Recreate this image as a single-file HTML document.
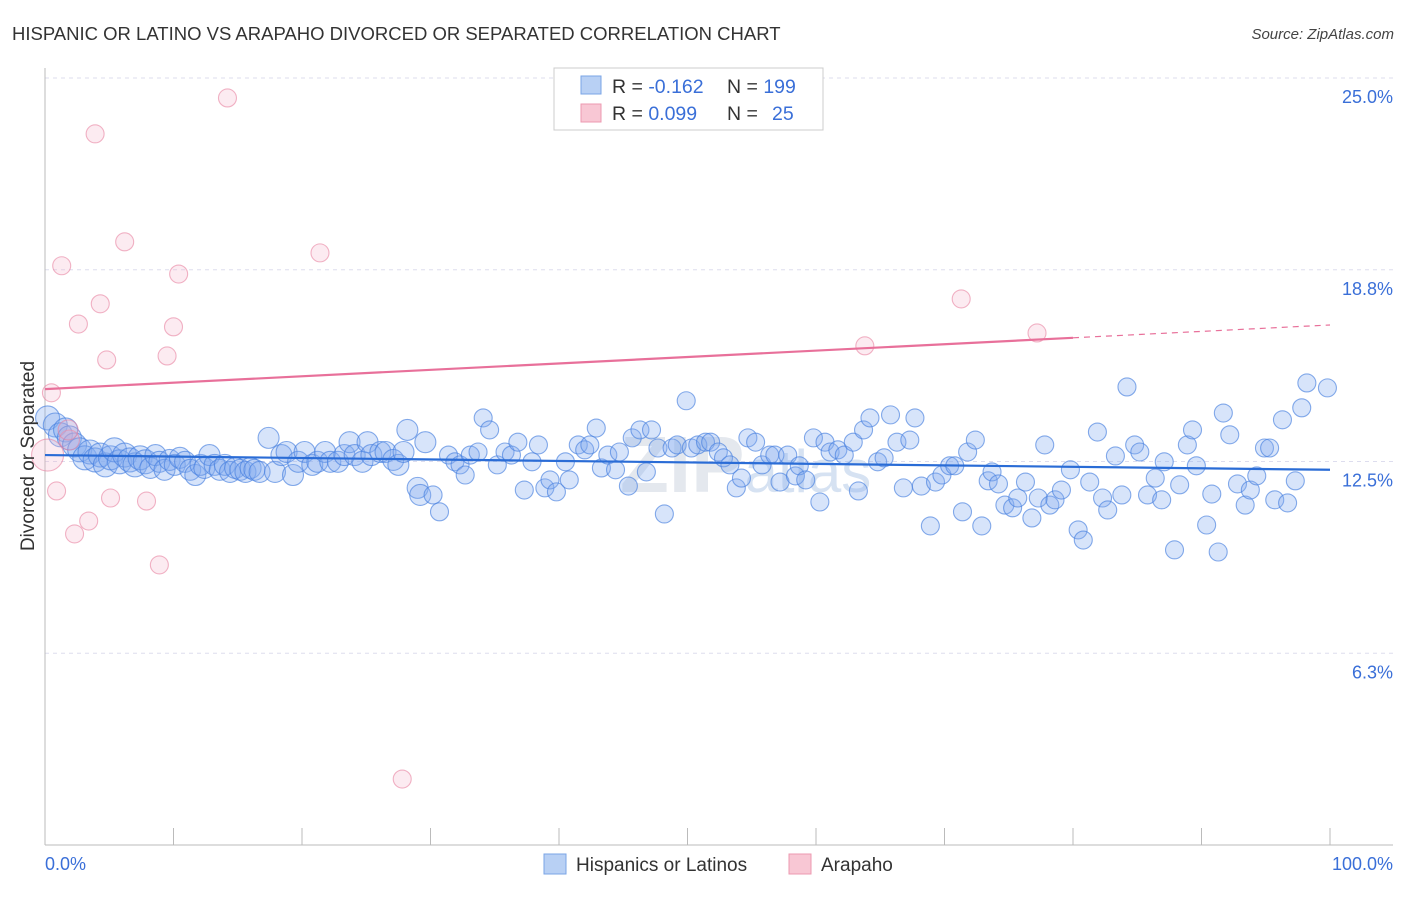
<!DOCTYPE html>
<html><head><meta charset="utf-8"><style>
body{margin:0;background:#fff;font-family:"Liberation Sans",sans-serif;}
svg text{font-family:"Liberation Sans",sans-serif;}
</style></head><body>
<svg id="c" width="1406" height="892" xmlns="http://www.w3.org/2000/svg">
<text x="12" y="40" font-size="18.5" fill="#333">HISPANIC OR LATINO VS ARAPAHO DIVORCED OR SEPARATED CORRELATION CHART</text>
<text x="1394" y="39" font-size="15" fill="#444" font-style="italic" text-anchor="end">Source: ZipAtlas.com</text>
<g id="grid"></g>
<text x="620" y="492" font-size="80" fill="#e4e8ee" font-weight="bold">ZIP<tspan fill="#d6e2f2" font-weight="normal" font-size="60">atlas</tspan></text>
<line x1="45" y1="68" x2="45" y2="845" stroke="#bbb"/>
<line x1="45" y1="845" x2="1393" y2="845" stroke="#bbb"/>
<g id="ticks"></g>
<g id="pts"></g>
<g id="trends"></g>
<text transform="translate(34,456) rotate(-90)" font-size="19" fill="#333" text-anchor="middle">Divorced or Separated</text>
<text x="45" y="870" font-size="18" fill="#3a6fd8">0.0%</text>
<text x="1393" y="870" font-size="18" fill="#3a6fd8" text-anchor="end">100.0%</text>
<g>
<rect x="554" y="68" width="269" height="62" fill="#fff" stroke="#ccc"/>
<rect x="581" y="76" width="20" height="18" fill="#b8d0f4" stroke="#7aa4e6"/>
<rect x="581" y="104" width="20" height="18" fill="#f8c7d4" stroke="#ec9ab0"/>
<text x="612" y="93" font-size="19.5" fill="#333">R = <tspan fill="#3a6fd8">-0.162</tspan><tspan x="727">N = </tspan><tspan fill="#3a6fd8">199</tspan></text>
<text x="612" y="120" font-size="19.5" fill="#333">R = <tspan fill="#3a6fd8"> 0.099</tspan><tspan x="727">N = </tspan><tspan fill="#3a6fd8" x="772">25</tspan></text>
</g>
<g>
<rect x="544" y="854" width="22" height="20" fill="#b8d0f4" stroke="#7aa4e6"/>
<text x="576" y="871" font-size="19" fill="#333">Hispanics or Latinos</text>
<rect x="789" y="854" width="22" height="20" fill="#f8c7d4" stroke="#ec9ab0"/>
<text x="821" y="871" font-size="19" fill="#333">Arapaho</text>
</g>
</svg>
<script>
const yTicks=[25,18.75,12.5,6.25];
const yTickLabels=["25.0%","18.8%","12.5%","6.3%"];
const xTicks=[0,10,20,30,40,50,60,70,80,90,100];
const blueX=[0.2,0.8,1.2,1.6,1.9,2.3,2.7,3.1,3.5,3.9,4.3,4.7,5.1,5.4,5.8,6.2,6.6,7.0,7.4,7.8,8.2,8.6,8.9,9.3,9.7,10.1,10.5,10.9,11.3,11.7,12.1,12.4,12.8,13.2,13.6,14.0,14.4,14.8,15.2,15.6,16.0,16.3,16.7,17.4,17.9,18.4,18.8,19.3,19.7,20.2,20.8,21.2,21.8,22.2,22.8,23.3,23.7,24.1,24.7,25.1,25.4,26.1,26.5,27.1,27.5,27.9,28.2,29.0,29.2,29.6,30.2,30.7,31.4,31.9,32.3,32.7,33.1,33.7,34.1,34.6,35.2,35.8,36.3,36.8,37.3,37.9,38.4,38.9,39.3,39.8,40.5,40.8,41.5,42.0,42.4,42.9,43.3,43.8,44.4,44.7,45.4,45.7,46.3,46.8,47.2,47.7,48.2,48.8,49.2,49.9,50.3,50.8,51.4,51.8,52.4,52.8,53.3,53.8,54.2,54.7,55.3,55.8,56.4,56.8,57.2,57.8,58.4,58.7,59.2,59.8,60.3,60.7,61.1,61.7,62.2,62.9,63.3,63.7,64.2,64.8,65.3,65.8,66.3,66.8,67.3,67.7,68.2,68.9,69.3,69.8,70.4,70.8,71.4,71.8,72.4,72.9,73.4,73.7,74.2,74.7,75.3,75.7,76.3,76.8,77.3,77.8,78.2,78.6,79.1,79.8,80.4,80.8,81.3,81.9,82.3,82.7,83.3,83.8,84.2,84.8,85.2,85.8,86.4,86.9,87.1,87.9,88.3,88.9,89.3,89.6,90.4,90.8,91.3,91.7,92.2,92.8,93.4,93.8,94.3,94.9,95.3,95.7,96.3,96.7,97.3,97.8,98.2,99.8];
const blueY=[13.92,13.69,13.37,13.53,13.27,13.04,12.88,12.62,12.81,12.55,12.71,12.39,12.62,12.88,12.49,12.71,12.55,12.39,12.62,12.49,12.29,12.71,12.49,12.23,12.55,12.39,12.62,12.49,12.23,12.06,12.39,12.29,12.71,12.39,12.23,12.39,12.16,12.29,12.23,12.16,12.29,12.23,12.16,13.27,12.16,12.71,12.81,12.06,12.49,12.81,12.39,12.49,12.81,12.49,12.49,12.71,13.13,12.71,12.49,13.13,12.71,12.81,12.81,12.55,12.39,12.81,13.53,11.64,11.41,13.13,11.41,10.86,12.71,12.49,12.39,12.06,12.71,12.81,13.92,13.53,12.39,12.81,12.71,13.13,11.57,12.49,13.04,11.64,11.90,11.51,12.49,11.90,13.04,12.88,13.04,13.59,12.29,12.71,12.23,12.81,11.70,13.27,13.53,12.16,13.53,12.94,10.79,12.94,13.04,14.48,12.94,13.04,13.13,13.13,12.81,12.62,12.39,11.64,11.96,13.27,13.13,12.39,12.71,12.71,11.83,12.71,12.03,12.36,11.90,13.27,11.18,13.13,12.81,12.88,12.71,13.13,11.54,13.53,13.92,12.49,12.62,14.02,13.13,11.64,13.20,13.92,11.70,10.40,11.83,12.06,12.36,12.36,10.86,12.81,13.20,10.40,11.87,12.16,11.77,11.08,10.99,11.31,11.83,10.66,11.31,13.04,11.08,11.25,11.57,12.23,10.27,9.94,11.83,13.46,11.31,10.92,12.68,11.41,14.93,13.04,12.81,11.41,11.96,11.25,12.49,9.62,11.74,13.04,13.53,12.36,10.43,11.44,9.55,14.08,13.37,11.77,11.08,11.57,12.03,12.94,12.94,11.25,13.86,11.15,11.87,14.25,15.06,14.90];
const pinkX=[0.5,0.9,1.3,2.3,2.6,3.4,3.9,4.3,4.8,5.1,6.2,7.9,8.9,9.5,10.0,10.4,14.2,21.4,27.8,63.8,71.3,77.2,0.2,1.9,1.8];
const pinkY=[14.74,11.54,18.88,10.14,16.98,10.56,23.18,17.64,15.81,11.31,19.66,11.21,9.13,15.94,16.89,18.61,24.35,19.30,2.15,16.27,17.80,16.69,12.71,13.2,13.53];
const blueTrend=[12.71,12.23];
const pinkTrend=[14.86,16.95];
const pinkSolidEnd=80;

const X=v=>45+v*12.85;
const Y=v=>845-v*30.68;
const NS="http://www.w3.org/2000/svg";
function mk(tag,attrs,parent){const e=document.createElementNS(NS,tag);for(const k in attrs)e.setAttribute(k,attrs[k]);parent.appendChild(e);return e;}
const grid=document.getElementById('grid');
yTicks.forEach((t,i)=>{
  const l=mk('line',{x1:45,x2:1393,y1:Y(t),y2:Y(t),stroke:'#dde',"stroke-dasharray":'4,4'},grid);
  
  
  const tx=mk('text',{x:1393,y:Y(t)+25,"font-size":18,fill:'#3a6fd8',"text-anchor":'end'},grid);
  tx.textContent=yTickLabels[i];
  
  
});
const ticks=document.getElementById('ticks');
xTicks.forEach(t=>{
  const l=mk('line',{x1:X(t),x2:X(t),y1:828,y2:845,stroke:'#bbb'},ticks);
  
  
});
const pts=document.getElementById('pts');
blueX.forEach((x,i)=>{
  const r=x<8?12:x<30?10.5:9;
  const c=mk('circle',{cx:X(x),cy:Y(blueY[i]),r:r,fill:'rgba(130,172,238,0.32)',stroke:'rgba(70,128,222,0.65)',"stroke-width":1.1},pts);
  
  
});
pinkX.forEach((x,i)=>{
  const r=i===22?16:i>22?10:9;
  const c=mk('circle',{cx:X(x),cy:Y(pinkY[i]),r:r,fill:'rgba(245,175,198,0.25)',stroke:'rgba(232,130,160,0.6)',"stroke-width":1.1},pts);
  
  
});
const tr=document.getElementById('trends');
const bl=mk('line',{x1:X(0),y1:Y(blueTrend[0]),x2:X(100),y2:Y(blueTrend[1]),stroke:'#2a6cd6',"stroke-width":2.2},tr);


const pm=pinkTrend[0]+(pinkTrend[1]-pinkTrend[0])*pinkSolidEnd/100;
const pl=mk('line',{x1:X(0),y1:Y(pinkTrend[0]),x2:X(pinkSolidEnd),y2:Y(pm),stroke:'#e8709a',"stroke-width":2.2},tr);


const pd=mk('line',{x1:X(pinkSolidEnd),y1:Y(pm),x2:X(100),y2:Y(pinkTrend[1]),stroke:'#e8709a',"stroke-width":1.2,"stroke-dasharray":'6,5'},tr);


</script>
</body></html>
